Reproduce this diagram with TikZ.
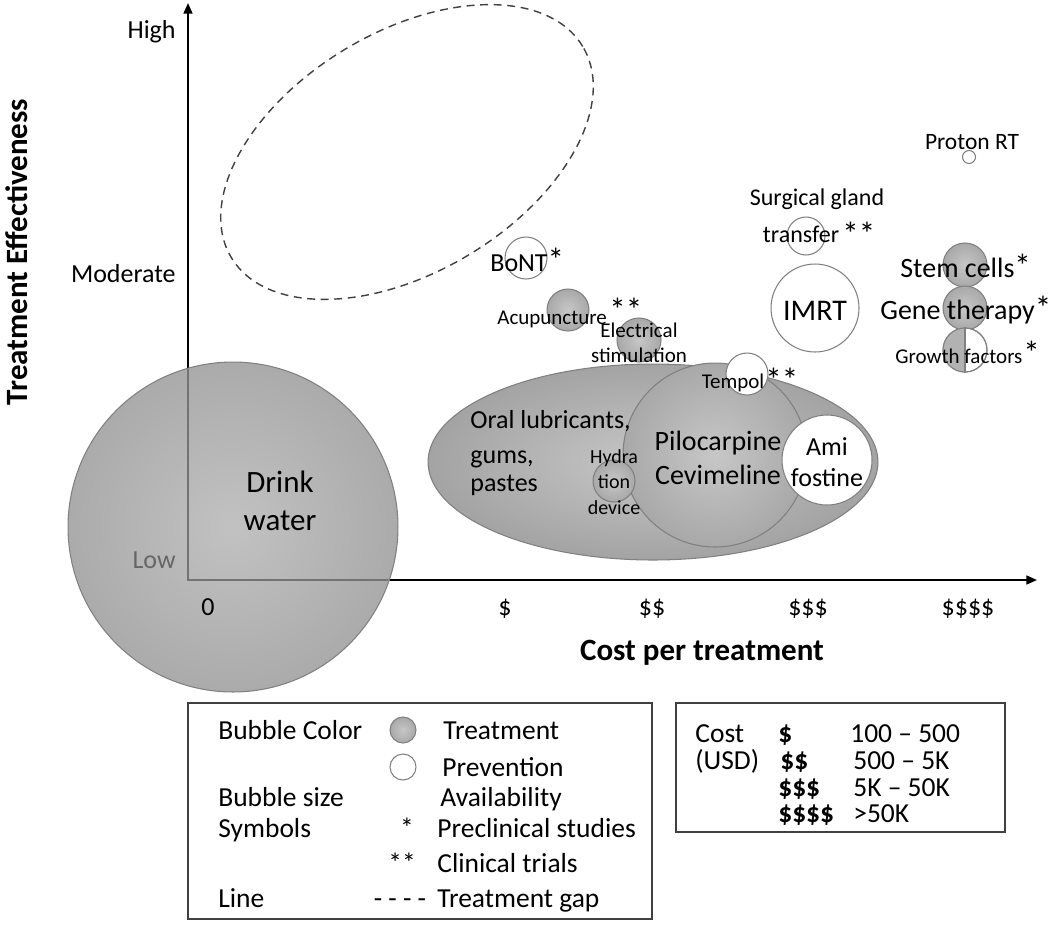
\documentclass[tikz,border=0pt]{standalone}
\usepackage{fontspec}
\setmainfont{Carlito}
\usetikzlibrary{arrows.meta,shapes.geometric}
\newdimen\pxu \pxu=0.56905pt
\newcommand\fs[2]{\fontsize{#1\pxu}{#2\pxu}\selectfont}
\newcommand\bigst[1]{{\fs{33}{33}#1}}
\tikzset{
  gbub/.style={circle, draw=black!50, line width=0.6pt, inner sep=0pt, shading=radial, inner color=black!22, outer color=black!34},
  wbub/.style={circle, draw=black!50, line width=0.6pt, inner sep=0pt, fill=white},
  axisline/.style={line width=1.1pt, -{Triangle[length=6pt,width=5pt]}},
  tc/.style={inner sep=0pt, anchor=base},
  tl/.style={inner sep=0pt, anchor=base west},
  tr/.style={inner sep=0pt, anchor=base east},
  legbox/.style={draw=black!75, line width=0.9pt},
}
\begin{document}
\begin{tikzpicture}[x=0.02cm,y=-0.02cm]
\useasboundingbox (0,0) rectangle (1050,931);

% treatment gap
\node[ellipse, draw=black!75, dash pattern=on 4.5pt off 3.2pt, line width=0.8pt, minimum width=8.2cm, minimum height=4.8cm, rotate=31, inner sep=0pt] (gap) at (407,152) {};

% axes
\coordinate (O) at (188,580);
\coordinate (ytip) at (188,3);
\coordinate (xtip) at (1037,580);
\draw[axisline] (O) -- (ytip);
\draw[axisline] (O) -- (xtip);

% drink water
\node[gbub, minimum size=6.6cm, inner color=black!24, outer color=black!33] (water) at (233,527) {};
\begin{scope}
  \clip (233,527) circle (164);
  \draw[line width=1.1pt, black!55] (188,300) -- (O) -- (450,580);
\end{scope}
\node[tr, font=\fs{26}{30}, text=black!60] (low) at (176,568) {Low};
\node[tc, font=\fs{31}{38}, align=center] (waterT) at (280,530) {Drink\\water};

% axis labels
\node[tr, font=\fs{26}{30}] (high) at (176,38) {High};
\node[tr, font=\fs{26}{30}] (mod) at (176,282) {Moderate};
\node[tc, font=\fs{26}{30}] (c0) at (208,615) {0};
\node[tc, font=\fs{26}{30}] (c1) at (505,615) {\$};
\node[tc, font=\fs{26}{30}] (c2) at (652,615) {\$\$};
\node[tc, font=\fs{26}{30}] (c3) at (808,615) {\$\$\$};
\node[tc, font=\fs{26}{30}] (c4) at (968,615) {\$\$\$\$};
\node[tc, font=\bfseries\fs{31}{38}] (xlab) at (702,660) {Cost per treatment};
\node[inner sep=0pt, rotate=90, font=\bfseries\fs{31}{38}] (ylab) at (17,252) {Treatment Effectiveness};

% big ellipse group
\node[ellipse, draw=black!50, line width=0.6pt, inner sep=0pt, shading=radial, inner color=black!22, outer color=black!36, minimum width=9cm, minimum height=3.92cm] (oral) at (653,462) {};
\node[gbub, minimum size=3.68cm] (pilo) at (715,455) {};
\node[gbub, minimum size=0.84cm] (hyd) at (614,481) {};
\node[wbub, minimum size=1.8cm] (ami) at (827,460) {};
\node[wbub, minimum size=0.84cm] (tempol) at (747,374) {};

\node[tl, font=\fs{26}{35}] (oralT) at (470,428) {Oral lubricants,};
\node[tl, font=\fs{26}{35}] (gumsT) at (470,463) {gums,};
\node[tl, font=\fs{26}{35}] (pastesT) at (470,491) {pastes};
\node[tc, font=\fs{20}{25.5}, align=center] (hydT) at (614,514) {Hydra\\tion\\device};
\node[tc, font=\fs{28}{34}, align=center] (piloT) at (718,484) {Pilocarpine\\Cevimeline};
\node[tc, font=\fs{26}{31}, align=center] (amiT) at (827,486) {Ami\\fostine};
\node[tc, font=\fs{21}{25}] (tempolT) at (733,388) {Tempol};
\node[tl, font=\fs{26}{30}] (tempolS) at (765,391) {\bigst{**}};

% other bubbles
\node[wbub, minimum size=0.84cm] (bont) at (526,258) {};
\node[tl, font=\fs{26}{30}] (bontT) at (490,271) {BoNT\bigst{*}};
\node[gbub, minimum size=0.84cm] (acu) at (568,310) {};
\node[tl, font=\fs{21}{25}] (acuT) at (497,324) {Acupuncture};
\node[tl, font=\fs{26}{30}] (acuS) at (609,321) {\bigst{\smash{**}}};
\node[gbub, minimum size=0.88cm] (elec) at (639,340) {};
\node[tc, font=\fs{21}{25}, align=center] (elecT) at (639,362) {Electrical\\stimulation};

\node[wbub, minimum size=0.26cm] (proton) at (969,157) {};
\node[tc, font=\fs{23.5}{28}] (protonT) at (972,149) {Proton RT};
\node[wbub, minimum size=0.76cm] (sgt) at (806,236) {};
\node[tc, font=\fs{24}{37}] (sgtT) at (817,205) {Surgical gland};
\node[tc, font=\fs{24}{37}] (sgtT2) at (801,242) {transfer};
\node[tl, font=\fs{26}{30}] (sgtS) at (842,245) {\bigst{**}};
\node[wbub, minimum size=1.76cm] (imrt) at (815,308) {};
\node[tc, font=\fs{30}{36}] (imrtT) at (815,320) {IMRT};

\node[gbub, minimum size=0.88cm] (stem) at (965,265) {};
\node[gbub, minimum size=0.88cm] (gene) at (965,308) {};
\node[wbub, minimum size=0.88cm] (growth) at (965,350) {};
\fill[black!30] (growth.north) arc[start angle=90, end angle=270, radius=0.44cm] -- cycle;
\draw[black!50, line width=0.6pt] (growth.north) -- (growth.south);
\draw[black!50, line width=0.6pt] (growth.center) circle (22);
\node[tl, font=\fs{28}{34}] (stemT) at (900,277) {Stem cells\bigst{*}};
\node[tl, font=\fs{28}{34}] (geneT) at (880,319) {Gene therapy\bigst{*}};
\node[tl, font=\fs{21}{25}] (growthT) at (895,363) {Growth factors};
\node[tl, font=\fs{26}{30}] (growthS) at (1023,364) {\bigst{*}};

% legend 1
\node[legbox, minimum width=9.28cm, minimum height=4.32cm, inner sep=0pt] (leg1) at (420,811) {};
\node[tl, font=\fs{27.5}{34}] (l1a) at (218,739) {Bubble Color};
\node[gbub, minimum size=0.52cm] (l1g) at (403,730) {};
\node[tl, font=\fs{27.5}{34}] (l1b) at (443,739) {Treatment};
\node[wbub, minimum size=0.52cm] (l1w) at (403,767) {};
\node[tl, font=\fs{27.5}{34}] (l1c) at (442,776) {Prevention};
\node[tl, font=\fs{27.5}{34}] (l1d) at (218,806) {Bubble size};
\node[tl, font=\fs{27.5}{34}] (l1e) at (440,806) {Availability};
\node[tl, font=\fs{27.5}{34}] (l1f) at (218,837) {Symbols};
\node[tc, font=\fs{27.5}{34}] (l1g2) at (407,837) {*};
\node[tl, font=\fs{27.5}{34}] (l1h) at (437,837) {Preclinical studies};
\node[tc, font=\fs{27.5}{34}] (l1i) at (402,872) {**};
\node[tl, font=\fs{27.5}{34}] (l1j) at (437,872) {Clinical trials};
\node[tl, font=\fs{27.5}{34}] (l1k) at (218,907) {Line};
\node[tc, font=\fs{27.5}{34}] (l1l) at (400,907) {- - - -};
\node[tl, font=\fs{27.5}{34}] (l1m) at (437,907) {Treatment gap};

% legend 2
\node[legbox, minimum width=6.58cm, minimum height=2.58cm, inner sep=0pt] (leg2) at (840.5,767.5) {};
\node[tl, font=\fs{27.5}{34}] (l2a) at (695,742) {Cost};
\node[tl, font=\bfseries\fs{27.5}{34}] (l2b) at (778,742) {\$};
\node[tl, font=\fs{27.5}{34}] (l2c) at (850,742) {100 – 500};
\node[tl, font=\fs{27.5}{34}] (l2d) at (695,769) {(USD)};
\node[tl, font=\bfseries\fs{27.5}{34}] (l2e) at (780,769) {\$\$};
\node[tl, font=\fs{27.5}{34}] (l2f) at (853,769) {500 – 5K};
\node[tl, font=\bfseries\fs{27.5}{34}] (l2g) at (778,796) {\$\$\$};
\node[tl, font=\fs{27.5}{34}] (l2h) at (853,796) {5K – 50K};
\node[tl, font=\bfseries\fs{27.5}{34}] (l2i) at (778,822) {\$\$\$\$};
\node[tl, font=\fs{27.5}{34}] (l2j) at (853,822) {>50K};
\end{tikzpicture}
\end{document}
